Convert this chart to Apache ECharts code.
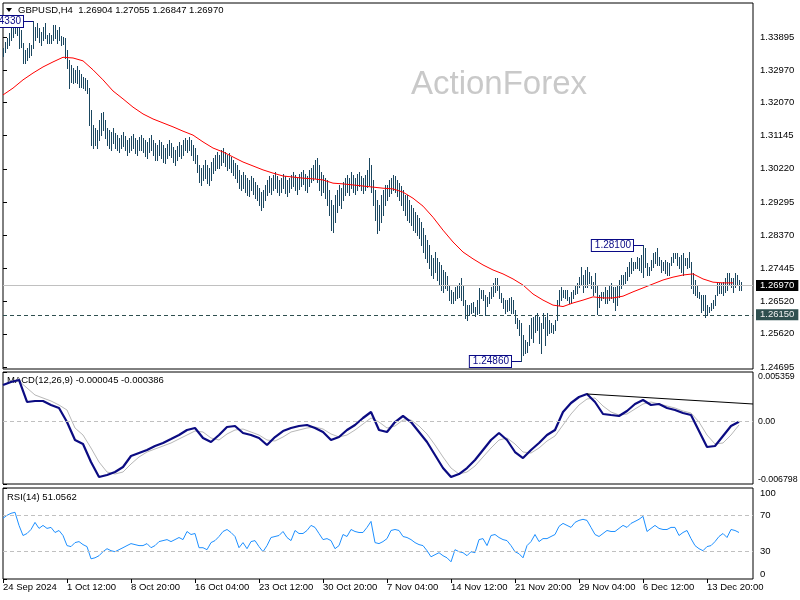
<!DOCTYPE html>
<html><head><meta charset="utf-8">
<script src="https://cdn.jsdelivr.net/npm/echarts@6/dist/echarts.min.js"></script>
<style>html,body{margin:0;padding:0;background:#fff}#c{width:800px;height:600px}</style>
</head><body><div id="c"></div>
<script>
// ---------- DATA ----------
const xLabels = ['24 Sep 2024','1 Oct 12:00','8 Oct 20:00','16 Oct 04:00','23 Oct 12:00','30 Oct 20:00','7 Nov 04:00','14 Nov 12:00','21 Nov 20:00','29 Nov 04:00','6 Dec 12:00','13 Dec 20:00'];
const BARS_PER_LABEL = 32;
const priceTicks = [1.33895,1.32970,1.32070,1.31145,1.30220,1.29295,1.28370,1.27445,1.26520,1.25620,1.24695];
const macdTicks = [-0.006798, 0, 0.005359];
const rsiTicks = [0, 30, 70, 100];
const rsiLevels = [70, 30];

const barHigh = [
1.3359,1.3376,1.3387,1.3401,1.3415,1.3423,1.3429,1.3431,1.3423,1.3409,
1.3373,1.3353,1.3359,1.3373,1.3367,1.3433,1.3417,1.3429,1.3415,1.3403,
1.3417,1.3429,1.3395,1.3401,1.3395,1.3423,1.3423,1.3409,1.3417,1.3392,
1.3390,1.3387,1.3353,1.3325,1.3312,1.3303,1.3298,1.3309,1.3298,1.3286,
1.3278,1.3275,1.3270,1.3247,1.3186,1.3144,1.3136,1.3130,1.3158,1.3178,
1.3180,1.3158,1.3136,1.3130,1.3125,1.3136,1.3122,1.3116,1.3108,1.3116,
1.3125,1.3113,1.3102,1.3108,1.3113,1.3119,1.3108,1.3102,1.3111,1.3116,
1.3108,1.3102,1.3097,1.3108,1.3116,1.3102,1.3094,1.3088,1.3102,1.3097,
1.3088,1.3080,1.3091,1.3102,1.3094,1.3083,1.3075,1.3086,1.3097,1.3088,
1.3102,1.3108,1.3102,1.3111,1.3102,1.3088,1.3080,1.3061,1.3033,1.3024,
1.3033,1.3047,1.3033,1.3024,1.3041,1.3052,1.3061,1.3069,1.3061,1.3075,
1.3080,1.3069,1.3061,1.3066,1.3055,1.3047,1.3038,1.3033,1.3019,1.3005,
1.3013,1.3005,1.2996,1.2991,1.3002,1.2996,1.2985,1.2977,1.2968,1.2957,
1.2963,1.2977,1.2991,1.3002,1.2996,1.3005,1.3013,1.3002,1.2991,1.2996,
1.3007,1.3002,1.2991,1.2996,1.3005,1.3013,1.3005,1.2996,1.3007,1.3013,
1.3019,1.3007,1.3002,1.3019,1.3024,1.3033,1.3047,1.3052,1.3033,1.3013,
1.3005,1.2996,1.2991,1.2963,1.2935,1.2921,1.2949,1.2963,1.2977,1.2968,
1.2985,1.2996,1.3005,1.2996,1.3013,1.3005,1.2996,1.3007,1.3013,1.3002,
1.2996,1.3005,1.3019,1.3052,1.3033,1.2991,1.2963,1.2935,1.2921,1.2949,
1.2963,1.2977,1.2977,1.2991,1.2996,1.3005,1.3002,1.2991,1.2982,1.2974,
1.2963,1.2949,1.2949,1.2935,1.2921,1.2913,1.2901,1.2893,1.2885,1.2874,
1.2857,1.2838,1.2824,1.2810,1.2782,1.2773,1.2790,1.2773,1.2762,1.2754,
1.2740,1.2734,1.2723,1.2698,1.2684,1.2679,1.2692,1.2698,1.2704,1.2718,
1.2698,1.2656,1.2642,1.2642,1.2648,1.2651,1.2637,1.2656,1.2690,1.2684,
1.2684,1.2670,1.2665,1.2679,1.2692,1.2704,1.2718,1.2718,1.2698,1.2676,
1.2662,1.2656,1.2656,1.2662,1.2665,1.2656,1.2628,1.2606,1.2601,1.2592,
1.2559,1.2545,1.2539,1.2587,1.2606,1.2609,1.2614,1.2620,1.2609,1.2592,
1.2620,1.2609,1.2620,1.2601,1.2592,1.2587,1.2601,1.2656,1.2684,1.2692,
1.2684,1.2684,1.2684,1.2665,1.2679,1.2684,1.2695,1.2704,1.2720,1.2748,
1.2726,1.2740,1.2748,1.2734,1.2723,1.2706,1.2731,1.2698,1.2670,1.2679,
1.2679,1.2692,1.2684,1.2698,1.2704,1.2692,1.2692,1.2698,1.2712,1.2726,
1.2726,1.2734,1.2748,1.2762,1.2773,1.2762,1.2762,1.2776,1.2773,1.2782,
1.2810,1.2801,1.2759,1.2748,1.2768,1.2787,1.2790,1.2801,1.2776,1.2768,
1.2762,1.2768,1.2762,1.2759,1.2776,1.2787,1.2787,1.2787,1.2776,1.2782,
1.2787,1.2773,1.2773,1.2790,1.2762,1.2731,1.2712,1.2698,1.2679,1.2670,
1.2670,1.2670,1.2642,1.2637,1.2648,1.2656,1.2670,1.2706,1.2704,1.2704,
1.2706,1.2718,1.2731,1.2731,1.2718,1.2718,1.2731,1.2726,1.2712,1.2706];

const barLow = [
1.3336,1.3348,1.3359,1.3367,1.3381,1.3390,1.3401,1.3395,1.3359,1.3362,
1.3317,1.3317,1.3325,1.3334,1.3339,1.3359,1.3381,1.3390,1.3376,1.3367,
1.3381,1.3387,1.3373,1.3373,1.3373,1.3381,1.3387,1.3373,1.3381,1.3367,
1.3370,1.3331,1.3303,1.3247,1.3264,1.3261,1.3264,1.3261,1.3250,1.3250,
1.3247,1.3242,1.3233,1.3144,1.3088,1.3080,1.3088,1.3080,1.3102,1.3116,
1.3130,1.3108,1.3088,1.3080,1.3075,1.3094,1.3080,1.3075,1.3069,1.3080,
1.3086,1.3075,1.3061,1.3069,1.3075,1.3080,1.3066,1.3061,1.3075,1.3075,
1.3069,1.3058,1.3052,1.3069,1.3075,1.3061,1.3047,1.3047,1.3061,1.3052,
1.3041,1.3038,1.3052,1.3061,1.3055,1.3041,1.3033,1.3047,1.3058,1.3052,
1.3061,1.3075,1.3069,1.3075,1.3061,1.3047,1.3038,1.3013,1.2985,1.2977,
1.2991,1.2996,1.2982,1.2977,1.2991,1.3010,1.3019,1.3024,1.3024,1.3033,
1.3041,1.3030,1.3019,1.3024,1.3013,1.3005,1.2996,1.2985,1.2968,1.2963,
1.2968,1.2957,1.2949,1.2946,1.2963,1.2952,1.2940,1.2935,1.2921,1.2907,
1.2915,1.2935,1.2949,1.2957,1.2952,1.2963,1.2968,1.2957,1.2949,1.2957,
1.2968,1.2954,1.2946,1.2957,1.2968,1.2974,1.2963,1.2952,1.2966,1.2974,
1.2980,1.2963,1.2957,1.2974,1.2985,1.2991,1.2996,1.2985,1.2963,1.2949,
1.2957,1.2940,1.2921,1.2893,1.2851,1.2846,1.2874,1.2901,1.2921,1.2913,
1.2935,1.2949,1.2957,1.2949,1.2968,1.2957,1.2952,1.2963,1.2974,1.2963,
1.2954,1.2963,1.2971,1.2977,1.2957,1.2921,1.2879,1.2843,1.2851,1.2874,
1.2893,1.2921,1.2935,1.2946,1.2954,1.2963,1.2957,1.2946,1.2935,1.2921,
1.2907,1.2893,1.2879,1.2874,1.2865,1.2851,1.2846,1.2838,1.2829,1.2810,
1.2790,1.2773,1.2762,1.2745,1.2726,1.2718,1.2734,1.2712,1.2698,1.2684,
1.2679,1.2690,1.2684,1.2656,1.2648,1.2648,1.2656,1.2662,1.2665,1.2656,
1.2642,1.2606,1.2601,1.2614,1.2620,1.2623,1.2612,1.2617,1.2620,1.2662,
1.2656,1.2614,1.2640,1.2648,1.2662,1.2667,1.2679,1.2684,1.2662,1.2651,
1.2634,1.2620,1.2626,1.2628,1.2620,1.2620,1.2592,1.2578,1.2559,1.2486,
1.2503,1.2509,1.2512,1.2531,1.2551,1.2539,1.2567,1.2573,1.2537,1.2509,
1.2578,1.2531,1.2559,1.2564,1.2567,1.2564,1.2573,1.2601,1.2642,1.2656,
1.2665,1.2662,1.2656,1.2648,1.2651,1.2662,1.2673,1.2676,1.2692,1.2698,
1.2679,1.2692,1.2692,1.2704,1.2690,1.2670,1.2679,1.2617,1.2637,1.2656,
1.2662,1.2648,1.2648,1.2656,1.2662,1.2651,1.2628,1.2642,1.2665,1.2690,
1.2698,1.2704,1.2712,1.2723,1.2731,1.2740,1.2745,1.2745,1.2740,1.2734,
1.2720,1.2748,1.2726,1.2726,1.2740,1.2748,1.2759,1.2754,1.2754,1.2734,
1.2740,1.2731,1.2726,1.2726,1.2754,1.2762,1.2773,1.2754,1.2745,1.2734,
1.2726,1.2754,1.2745,1.2748,1.2690,1.2676,1.2670,1.2665,1.2662,1.2623,
1.2628,1.2609,1.2614,1.2623,1.2628,1.2634,1.2642,1.2670,1.2676,1.2676,
1.2670,1.2679,1.2684,1.2698,1.2692,1.2679,1.2692,1.2698,1.2684,1.2685];

const MA_STEP = 5;
const maValues = [
1.3228,1.3247,1.3270,1.3289,1.3306,1.3320,1.3333,1.3331,1.3323,1.3298,
1.3270,1.3239,1.3217,1.3194,1.3175,1.3161,1.3150,1.3139,1.3127,1.3116,
1.3097,1.3080,1.3069,1.3055,1.3041,1.3030,1.3019,1.3010,1.3002,1.2999,
1.2996,1.2994,1.2991,1.2982,1.2980,1.2977,1.2974,1.2971,1.2968,1.2966,
1.2957,1.2940,1.2918,1.2887,1.2851,1.2818,1.2790,1.2771,1.2754,1.2740,
1.2729,1.2715,1.2698,1.2673,1.2656,1.2642,1.2638,1.2648,1.2656,1.2665,
1.2662,1.2662,1.2667,1.2679,1.2690,1.2701,1.2712,1.2720,1.2726,1.2729,
1.2715,1.2706,1.2704,1.2704];

const MACD_STEP = 4;
const macdValues = [
0.003948,0.004274,0.004491,0.002103,0.002211,0.002211,0.001777,0.001451,-0.000069,-0.002023,
-0.002457,-0.004412,-0.006040,-0.005823,-0.005497,-0.004955,-0.003761,-0.003435,-0.003109,-0.002675,
-0.002349,-0.001915,-0.001480,-0.000937,-0.000720,-0.001806,-0.002240,-0.001480,-0.000611,-0.000503,
-0.001263,-0.001480,-0.001806,-0.002566,-0.001697,-0.001046,-0.000720,-0.000503,-0.000394,-0.000720,
-0.001154,-0.002023,-0.001697,-0.000937,-0.000394,0.000366,0.001017,-0.000937,-0.001154,-0.000069,
0.000583,-0.000069,-0.001154,-0.002240,-0.003652,-0.005063,-0.006040,-0.005714,-0.005063,-0.004195,
-0.003109,-0.002023,-0.001263,-0.002023,-0.003326,-0.003978,-0.003109,-0.002349,-0.001480,-0.000937,
0.001017,0.001994,0.002645,0.002971,0.002103,0.000800,0.000691,0.000583,0.001125,0.001885,
0.002319,0.001777,0.001885,0.001451,0.001234,0.000908,0.000691,-0.001046,-0.002783,-0.002675,
-0.001589,-0.000503,-0.000045];
const signalValues = [
0.003948,0.004274,0.004382,0.003622,0.002863,0.002537,0.002211,0.001777,0.001234,-0.000720,
-0.001480,-0.002892,-0.004412,-0.005497,-0.005714,-0.005497,-0.004627,-0.003867,-0.003326,-0.002998,
-0.002675,-0.002349,-0.001913,-0.001480,-0.001045,-0.001154,-0.001806,-0.002023,-0.001370,-0.000937,
-0.000829,-0.001154,-0.001480,-0.002023,-0.002132,-0.001697,-0.001154,-0.000937,-0.000720,-0.000611,
-0.000829,-0.001370,-0.001697,-0.001480,-0.000937,-0.000285,0.000366,-0.000069,-0.000720,-0.000503,
0.000149,0.000149,-0.000503,-0.001370,-0.002566,-0.003867,-0.005063,-0.005714,-0.005497,-0.004844,
-0.003867,-0.002892,-0.002023,-0.001806,-0.002457,-0.003326,-0.003435,-0.002892,-0.002132,-0.001587,
-0.000394,0.000800,0.001777,0.002428,0.002537,0.001668,0.001017,0.000691,0.000800,0.001343,
0.001885,0.002103,0.001885,0.001668,0.001451,0.001125,0.000908,-0.000069,-0.001480,-0.002457,
-0.002349,-0.001480,-0.000386];
const macdTrend = [[292, 0.002971], [375, 0.001886]];

const RSI_STEP = 2;
const rsiValues = [
66.7,70.0,72.2,73.3,58.9,47.8,50.0,54.4,62.2,55.6,
58.9,55.6,56.7,51.1,53.3,47.8,36.7,35.6,40.0,41.1,
37.8,35.6,22.2,23.3,25.6,30.0,33.3,31.1,30.0,32.2,
34.4,36.7,38.9,37.8,36.7,36.7,38.9,34.4,36.7,41.1,
42.2,43.3,41.1,43.3,45.6,43.3,52.2,48.9,50.0,34.4,
34.4,32.2,40.0,42.2,46.7,52.2,54.4,51.1,46.7,34.4,
40.0,33.3,41.1,42.2,35.6,30.0,36.7,45.6,46.7,47.8,
52.2,45.6,42.2,53.3,50.0,50.0,53.3,58.9,56.7,50.0,
43.3,44.4,42.2,33.3,36.7,48.9,46.7,54.4,52.2,51.1,
51.1,56.7,63.3,40.0,38.9,41.1,44.4,53.3,54.4,53.3,
46.7,45.6,43.3,40.0,37.8,36.7,31.1,24.4,26.7,28.9,
25.6,23.3,18.9,32.2,30.0,28.9,25.6,30.0,28.9,43.3,
44.4,36.7,47.8,48.9,45.6,43.3,42.2,36.7,30.0,27.8,
23.3,36.7,41.1,48.9,41.1,44.4,44.4,46.7,48.9,57.8,
61.1,58.9,56.7,62.2,64.4,65.6,64.4,56.7,48.9,46.7,
50.0,53.3,52.2,52.2,55.6,58.9,56.7,61.1,63.3,65.6,
68.9,52.2,55.6,58.9,55.6,54.4,54.4,56.7,56.7,47.8,
51.1,53.3,44.4,36.7,33.3,31.1,35.6,36.7,41.1,46.7,
50.0,45.6,54.4,53.3,51.1];

const annotations = [[15, 1.34330, '1.34330'], [320, 1.28100, '1.28100'], [259, 1.24860, '1.24860']];
const lastPrice = 1.26970;
const supportLevel = 1.26150;
const headerText = 'GBPUSD,H4  1.26904 1.27055 1.26847 1.26970';
const macdText = 'MACD(12,26,9) -0.000045 -0.000386';
const rsiText = 'RSI(14) 51.0562';

// ---------- CHART ----------
const FONT = 'Liberation Sans, Arial, sans-serif';
const BAR_COLOR = '#1b4760';
const ANN = '#0a0a86';
const chart = echarts.init(document.getElementById('c'), null, {renderer: 'canvas'});

const xTickVals = xLabels.map((_, k) => k * BARS_PER_LABEL);
const gridBase = {left: 3, width: 750, show: true, borderColor: '#000', borderWidth: 1, outerBoundsMode: 'none', containLabel: false};
const labelStyle = {color: '#000', fontSize: 9.5, fontFamily: FONT};

function xAxisFor(g) {
  return {
    type: 'value', gridIndex: g, min: 0, max: 375, show: g === 2,
    axisLine: {show: false}, splitLine: {show: false},
    axisTick: {show: true, length: 4, lineStyle: {color: '#000'}, customValues: xTickVals},
    axisLabel: Object.assign({customValues: xTickVals, align: 'left', margin: 3,
      formatter: v => { const k = Math.round(v / BARS_PER_LABEL); return xLabels[k] || ''; }}, labelStyle)
  };
}
function yAxisFor(g, min, max, ticks, fmt, extra) {
  return {
    type: 'value', gridIndex: g, position: 'right', min: min, max: max, scale: true,
    axisLine: {show: false}, splitLine: {show: false},
    axisTick: {show: true, length: 4, lineStyle: {color: '#000'}, customValues: ticks},
    axisLabel: Object.assign({customValues: ticks, margin: 7, formatter: fmt}, labelStyle, extra || {})
  };
}

const option = {
  backgroundColor: '#fff',
  animation: false,
  grid: [
    Object.assign({top: 3, height: 366}, gridBase),
    Object.assign({top: 372, height: 112}, gridBase),
    Object.assign({top: 488, height: 91}, gridBase)
  ],
  xAxis: [xAxisFor(0), xAxisFor(1), xAxisFor(2)],
  yAxis: [
    yAxisFor(0, 1.246392, 1.348429, priceTicks, v => v.toFixed(5)),
    yAxisFor(1, -0.006798, 0.005359, macdTicks, v => (Math.abs(v) < 1e-12 ? '0.00' : v.toFixed(6)),
      {verticalAlignMinLabel: 'bottom', verticalAlignMaxLabel: 'top', fontSize: 8.8, margin: 5}),
    yAxisFor(2, 0, 100, rsiTicks, v => String(v), {verticalAlignMinLabel: 'bottom', verticalAlignMaxLabel: 'top'})
  ],
  graphic: [
    {type: 'text', x: 499, y: 85, z: 0, style: {text: 'ActionForex', font: '33px ' + FONT, fill: '#c9c9c9', align: 'center', verticalAlign: 'middle'}},
    {type: 'polygon', z: 10, shape: {points: [[6, 8], [12, 8], [9, 12]]}, style: {fill: '#000'}},
    {type: 'text', x: 18, y: 10, z: 10, style: {text: headerText, font: '9.5px ' + FONT, fill: '#000', verticalAlign: 'middle'}},
    {type: 'text', x: 7, y: 380, z: 1, style: {text: macdText, font: '9.5px ' + FONT, fill: '#000', verticalAlign: 'middle'}},
    {type: 'text', x: 7, y: 497, z: 10, style: {text: rsiText, font: '9.5px ' + FONT, fill: '#000', verticalAlign: 'middle'}}
  ],
  series: [
    { // level lines
      type: 'line', xAxisIndex: 0, yAxisIndex: 0, z: 1, data: [[0, lastPrice]], showSymbol: false,
      lineStyle: {opacity: 0}, silent: true,
      markLine: {
        symbol: ['none', 'none'], silent: true, animation: false, precision: 6,
        data: [
          {yAxis: lastPrice, lineStyle: {color: '#c0c0c0', type: 'solid', width: 1},
            label: {show: true, position: 'end', distance: 3, formatter: lastPrice.toFixed(5), color: '#fff', backgroundColor: '#000', padding: [1, 4, 0, 4], fontSize: 9.5, fontFamily: FONT}},
          {yAxis: supportLevel, lineStyle: {color: '#2f4f4f', type: [4, 3], width: 1},
            label: {show: true, position: 'end', distance: 3, formatter: supportLevel.toFixed(5), color: '#f0f0f0', backgroundColor: '#2f4f4f', padding: [1, 4, 0, 4], fontSize: 9.5, fontFamily: FONT}}
        ]
      }
    },
    { // OHLC bars as high-low lines
      type: 'custom', xAxisIndex: 0, yAxisIndex: 0, z: 2,
      data: barHigh.map((h, i) => [i, h, barLow[i]]),
      encode: {x: 0, y: [1, 2]},
      renderItem: (params, api) => {
        const i = api.value(0);
        const hi = api.coord([i, api.value(1)]);
        const lo = api.coord([i, api.value(2)]);
        const x = Math.round(hi[0]) + 0.5;
        return {type: 'line', shape: {x1: x, y1: Math.round(hi[1]), x2: x, y2: Math.round(lo[1]) + 1},
          style: {stroke: BAR_COLOR, lineWidth: 1}};
      }
    },
    { // moving average
      type: 'line', xAxisIndex: 0, yAxisIndex: 0, z: 3,
      data: maValues.map((v, k) => [k * MA_STEP, v]), showSymbol: false,
      lineStyle: {color: '#ff0000', width: 1}
    },
    { // annotations
      type: 'custom', xAxisIndex: 0, yAxisIndex: 0, z: 5, clip: false,
      data: annotations.map(a => [a[0], a[1]]),
      renderItem: (params, api) => {
        const a = annotations[params.dataIndex];
        const p = api.coord([api.value(0), api.value(1)]);
        const y = Math.round(p[1]) + 0.5;
        const xb = Math.round(p[0]);
        const xr = xb - 10;
        return {type: 'group', children: [
          {type: 'line', shape: {x1: xr, y1: y, x2: xb, y2: y}, style: {stroke: ANN, lineWidth: 1}},
          {type: 'text', x: xr, y: y, style: {text: a[2], align: 'right', verticalAlign: 'middle', fill: ANN,
            font: '10px ' + FONT, backgroundColor: '#fff', borderColor: ANN, borderWidth: 1, padding: [1, 2, 0, 3]}}
        ]};
      }
    },
    { // MACD main
      type: 'line', xAxisIndex: 1, yAxisIndex: 1, z: 3,
      data: macdValues.map((v, k) => [k * MACD_STEP, v]), showSymbol: false,
      lineStyle: {color: '#0b0b82', width: 2.2},
      markLine: {
        symbol: ['none', 'none'], silent: true, animation: false, label: {show: false}, precision: 6,
        data: [
          {yAxis: 0, lineStyle: {color: '#c0c0c0', type: [4, 3], width: 1}},
          [{coord: macdTrend[0], lineStyle: {color: '#000', type: 'solid', width: 1}}, {coord: macdTrend[1]}]
        ]
      }
    },
    { // MACD signal
      type: 'line', xAxisIndex: 1, yAxisIndex: 1, z: 2,
      data: signalValues.map((v, k) => [k * MACD_STEP, v]), showSymbol: false,
      lineStyle: {color: '#b8b8b8', width: 1}
    },
    { // RSI
      type: 'line', xAxisIndex: 2, yAxisIndex: 2, z: 3,
      data: rsiValues.map((v, k) => [k * RSI_STEP, v]), showSymbol: false,
      lineStyle: {color: '#1e90ff', width: 1},
      markLine: {
        symbol: ['none', 'none'], silent: true, animation: false, label: {show: false}, precision: 2,
        data: rsiLevels.map(l => ({yAxis: l, lineStyle: {color: '#c0c0c0', type: [4, 3], width: 1}}))
      }
    }
  ]
};
chart.setOption(option);
</script></body></html>
